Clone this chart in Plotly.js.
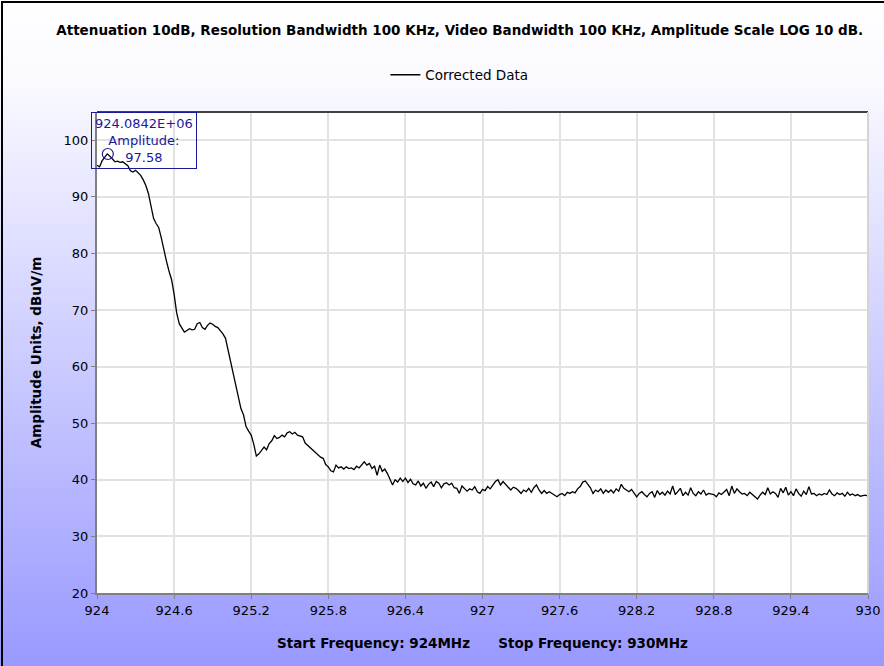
<!DOCTYPE html>
<html>
<head>
<meta charset="utf-8">
<script src="https://cdn.plot.ly/plotly-3.0.1.min.js"></script>
<style>
  html, body { margin: 0; padding: 0; }
  #wrap { position: relative; width: 884px; height: 666px; background: linear-gradient(to bottom, #ffffff 0%, #fafaff 12%, #9999ff 100%); }
  #chart { position: absolute; left: 0; top: 0; width: 884px; height: 666px; }
  #frame { position: absolute; left: 1px; top: 1px; width: 890px; height: 670px; border-top: 2px solid #000; border-left: 2px solid #000; pointer-events: none; }
</style>
</head>
<body>
<div id="wrap"><div id="chart"></div><div id="frame"></div></div>
<script>
// Sweep: start 924 MHz, step 0.02 MHz, 301 points
const freqStart = 924;
const freqStep = 0.02;
const amplitude = [
  95.6, 95.3, 96.4, 97.1, 97.6, 97.2, 96.6, 96.2, 96.3, 96.1,
  96.2, 95.9, 95.5, 94.6, 94.4, 94.7, 94.3, 93.8, 93.0, 92.0,
  90.6, 88.3, 86.2, 85.3, 84.6, 82.8, 80.6, 78.7, 76.9, 75.4,
  72.8, 69.5, 67.6, 66.8, 66.1, 66.4, 66.7, 66.5, 66.6, 67.6,
  67.8, 66.9, 66.6, 67.3, 67.7, 67.5, 67.1, 66.9, 66.4, 65.8,
  65.0, 62.9, 60.4, 58.4, 56.3, 54.1, 52.6, 51.5, 49.4, 48.6,
  47.9, 46.3, 44.2, 44.6, 45.2, 45.8, 45.3, 46.4, 46.9, 47.8,
  47.3, 47.5, 47.9, 47.6, 48.3, 48.5, 48.1, 48.4, 47.9, 47.8,
  47.6, 46.5, 46.1, 45.7, 45.3, 44.9, 44.4, 44.0, 43.8, 42.7,
  42.3, 41.6, 41.4, 42.6, 42.1, 42.3, 41.9, 42.3, 42.0, 42.1,
  41.8, 42.4, 42.1, 42.6, 43.2, 42.6, 42.9, 42.0, 42.4, 40.8,
  42.6, 41.5, 41.9, 41.1, 40.2, 39.1, 40.0, 39.6, 40.3, 39.7,
  40.3, 39.5, 40.1, 39.3, 39.1, 39.8, 38.9, 39.4, 38.5, 39.2,
  39.6, 38.8, 39.7, 39.4, 38.6, 39.3, 39.5, 39.1, 39.4, 38.6,
  38.5, 37.6, 38.9, 38.5, 38.0, 38.4, 38.2, 38.8, 37.9, 37.6,
  38.3, 38.1, 38.8, 38.4, 39.0, 39.7, 40.0, 39.1, 39.7, 39.2,
  38.6, 38.2, 38.7, 38.5, 38.1, 37.6, 38.2, 37.9, 38.5, 37.8,
  38.6, 39.1, 38.2, 37.6, 38.1, 37.6, 37.9, 37.6, 37.3, 37.0,
  37.4, 37.6, 37.2, 37.8, 37.6, 37.9, 37.7, 38.4, 38.8, 39.6,
  39.8, 39.1, 38.6, 37.6, 38.2, 37.9, 38.4, 37.6, 38.2, 37.8,
  38.2, 37.7, 38.4, 38.0, 39.2, 38.5, 38.2, 37.9, 38.3, 37.6,
  37.0, 37.6, 37.9, 37.4, 37.0, 37.6, 37.9, 36.9, 38.1, 37.4,
  37.8, 37.3, 38.0, 37.5, 38.9, 37.4, 37.9, 38.5, 37.2, 37.8,
  37.3, 38.6, 37.6, 37.2, 37.9, 37.5, 38.2, 37.3, 37.6, 37.5,
  37.4, 37.0, 37.7, 37.4, 37.9, 38.3, 37.2, 38.9, 37.6, 38.4,
  37.9, 37.5, 37.6, 37.2, 37.8, 37.4, 37.0, 36.6, 37.3, 37.8,
  37.4, 38.6, 37.5, 37.9, 37.6, 36.9, 38.5, 37.7, 38.7, 37.3,
  37.9, 37.2, 38.4, 37.6, 37.1, 38.0, 37.4, 38.8, 37.5, 37.6,
  37.2, 37.5, 37.3, 37.6, 37.4, 38.2, 37.5, 37.2, 37.7, 37.4,
  37.6, 37.1, 37.8, 37.3, 37.5, 37.2, 37.4, 37.1, 37.2, 37.3,
  37.1
];
const markerFreq = [924.0842];
const markerAmp = [97.58];
const markerLabel = "924.0842E+06<br>Amplitude:<br>97.58";
const xTickVals = [924, 924.6, 925.2, 925.8, 926.4, 927, 927.6, 928.2, 928.8, 929.4, 930];
const xTickText = ["924", "924.6", "925.2", "925.8", "926.4", "927", "927.6", "928.2", "928.8", "929.4", "930"];
const yTickVals = [20, 30, 40, 50, 60, 70, 80, 90, 100];

const titleText = "Attenuation 10dB, Resolution Bandwidth 100 KHz, Video Bandwidth 100 KHz, Amplitude Scale LOG 10 dB.";
const xTitle = "Start Frequency: 924MHz\u00a0\u00a0\u00a0\u00a0\u00a0\u00a0Stop Frequency: 930MHz";
const yTitle = "Amplitude Units, dBuV/m";

const tickFont = { family: "DejaVu Sans, sans-serif", size: 13, color: "#000" };
const boldFont = { family: "DejaVu Sans, sans-serif", size: 13.5, color: "#000", weight: "bold" };

const traces = [
  {
    type: "scatter", mode: "lines", name: "Corrected Data",
    x0: freqStart, dx: freqStep, y: amplitude,
    line: { color: "#000000", width: 1.3 }
  },
  {
    type: "scatter", mode: "markers", showlegend: false, hoverinfo: "skip",
    x: markerFreq, y: markerAmp,
    marker: { symbol: "circle-open", size: 11, color: "#1a1a99", line: { width: 1.2, color: "#1a1a99" } }
  }
];

const layout = {
  width: 884, height: 666,
  paper_bgcolor: "rgba(0,0,0,0)",
  plot_bgcolor: "#ffffff",
  margin: { l: 97, r: 16, t: 112, b: 73 },
  title: { text: "<b>" + titleText + "</b>", font: boldFont, x: 0.52, xanchor: "center", y: 0.955, yanchor: "middle" },
  showlegend: true,
  legend: { orientation: "h", x: 0.47, xanchor: "center", y: 1.077, yanchor: "middle",
            font: { family: "DejaVu Sans, sans-serif", size: 13.5, color: "#000" }, bgcolor: "rgba(0,0,0,0)" },
  xaxis: {
    range: [924, 930], tickvals: xTickVals, ticktext: xTickText,
    showgrid: true, gridcolor: "#e2e2e2", gridwidth: 2,
    showline: true, linecolor: "#808080", linewidth: 2,
    ticks: "outside", ticklen: 4, tickcolor: "#808080",
    tickfont: tickFont, zeroline: false,
    title: { text: "<b>" + xTitle + "</b>", font: boldFont, standoff: 22 }
  },
  yaxis: {
    range: [20, 105], tickvals: yTickVals,
    showgrid: true, gridcolor: "#e2e2e2", gridwidth: 2,
    showline: true, linecolor: "#808080", linewidth: 2,
    ticks: "outside", ticklen: 4, tickcolor: "#808080",
    tickfont: tickFont, zeroline: false,
    title: { text: "<b>" + yTitle + "</b>", font: boldFont, standoff: 19 }
  },
  shapes: [
    { type: "line", xref: "paper", yref: "paper", x0: 0, x1: 1, y0: 1, y1: 1, line: { color: "#404040", width: 2 } },
    { type: "line", xref: "paper", yref: "paper", x0: 1, x1: 1, y0: 0, y1: 1, line: { color: "#d4d4d4", width: 2 } }
  ],
  annotations: [
    { xref: "paper", yref: "paper", x: -0.0078, y: 1, xanchor: "left", yanchor: "top",
      text: markerLabel, showarrow: false, align: "center",
      font: { family: "DejaVu Sans, sans-serif", size: 13, color: "#1a1a99" },
      bordercolor: "#1a1a99", borderwidth: 1, borderpad: 3, bgcolor: "rgba(255,255,255,0)" }
  ]
};

Plotly.newPlot("chart", traces, layout, { displayModeBar: false, staticPlot: true });
</script>
</body>
</html>
